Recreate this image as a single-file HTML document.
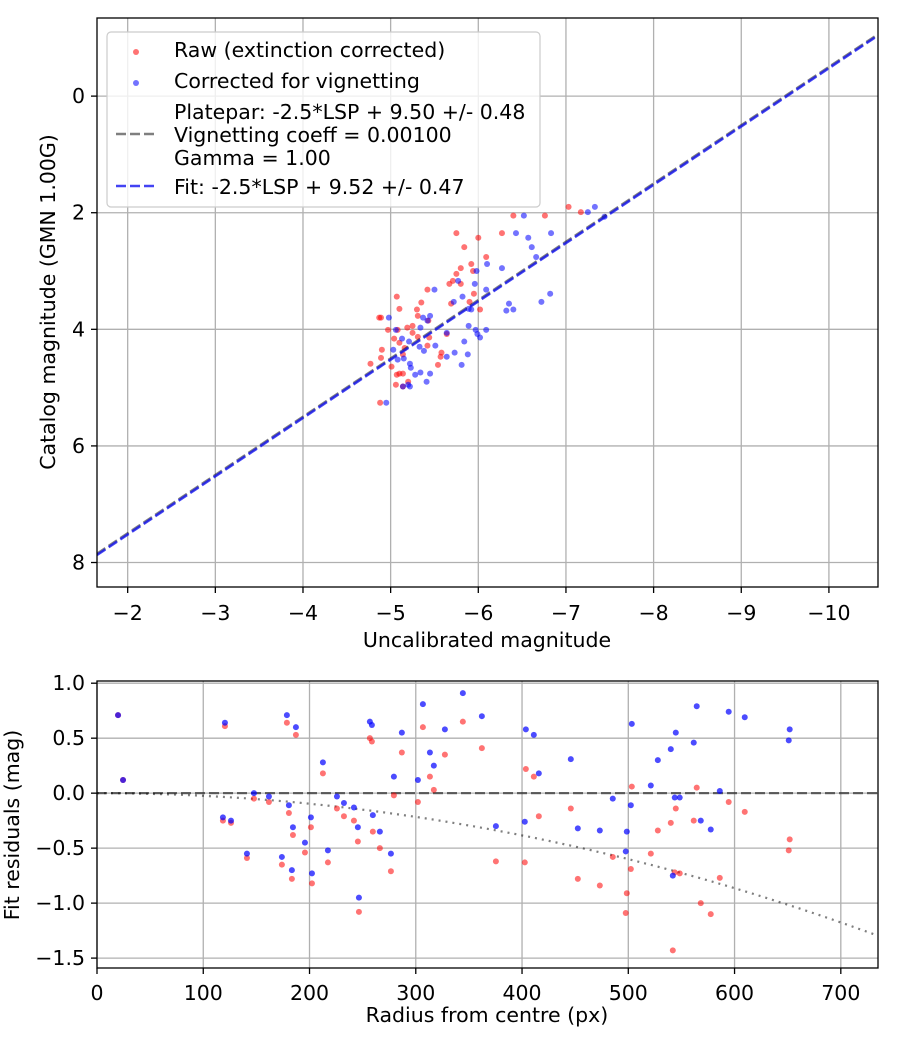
<!DOCTYPE html>
<html><head><meta charset="utf-8"><style>
body{margin:0;background:#fff}
svg text{font-family:"DejaVu Sans","Liberation Sans",sans-serif;fill:#000}
</style></head><body>
<svg id="fig" width="900" height="1050" viewBox="0 0 900 1050" xmlns="http://www.w3.org/2000/svg">
<rect width="900" height="1050" fill="#fff"/>
<g id="top"></g>
<g id="bot"></g>
</svg>
<script>
const topRawX=[-7.03,-7.17,-6.40,-6.76,-5.75,-6.00,-6.27,-5.84,-6.09,-5.92,-5.80,-5.94,-5.75,-5.71,-5.67,-5.80,-5.42,-5.95,-5.07,-5.35,-5.69,-5.90,-5.10,-5.30,-6.02,-5.31,-4.87,-4.89,-5.43,-4.97,-5.08,-5.19,-5.25,-5.25,-5.64,-5.04,-5.10,-5.44,-5.31,-5.16,-4.90,-5.42,-5.58,-4.89,-5.57,-4.77,-5.01,-5.54,-5.10,-5.14,-5.07,-5.20,-5.06,-5.14,-4.88,-5.14];
const topRawY=[1.90,1.99,2.05,2.05,2.35,2.43,2.35,2.59,2.76,2.88,2.95,3.00,3.05,3.17,3.22,3.22,3.32,3.39,3.44,3.54,3.56,3.53,3.65,3.66,3.66,3.77,3.80,3.80,3.85,4.01,4.01,3.97,3.94,4.06,4.08,4.16,4.23,4.14,4.13,4.32,4.35,4.28,4.40,4.49,4.47,4.59,4.64,4.61,4.76,4.76,4.78,4.90,4.95,4.98,5.26,4.43];
const topCorX=[-7.33,-7.25,-6.52,-7.44,-6.43,-6.83,-6.57,-6.61,-6.66,-6.10,-6.27,-5.98,-5.77,-5.96,-5.50,-6.09,-6.82,-5.82,-6.72,-6.35,-5.72,-6.32,-6.40,-5.89,-5.92,-5.45,-5.37,-4.98,-5.42,-5.89,-6.09,-5.97,-5.34,-5.06,-5.64,-5.99,-6.02,-5.13,-5.21,-5.84,-5.33,-5.51,-5.03,-5.38,-5.73,-5.88,-5.64,-5.15,-5.22,-5.81,-5.23,-5.45,-5.34,-5.28,-5.41,-5.20,-5.14,-5.22,-5.08,-4.95];
const topCorY=[1.90,1.99,2.05,2.07,2.35,2.35,2.43,2.59,2.76,2.88,2.95,3.00,3.17,3.22,3.32,3.32,3.39,3.44,3.53,3.56,3.53,3.68,3.66,3.65,3.66,3.77,3.80,3.80,3.85,3.94,4.01,4.01,3.97,4.01,4.06,4.08,4.14,4.16,4.21,4.21,4.30,4.28,4.35,4.37,4.40,4.43,4.47,4.50,4.59,4.61,4.66,4.76,4.74,4.78,4.90,4.95,4.98,4.98,4.52,5.26];
const platepar={slope:1,zp:9.50};
const fit={slope:1,zp:9.52};
const topXTicks=[-2,-3,-4,-5,-6,-7,-8,-9,-10];
const topYTicks=[0,2,4,6,8];

const radius=[120.4,178.7,187.2,147.7,161.8,180.6,118.5,126.1,184.4,201.3,195.7,141.1,174.0,183.4,202.3,212.6,225.8,232.4,241.8,245.5,259.6,266.2,217.3,276.6,246.5,256.8,258.7,286.9,279.4,306.7,313.3,317.0,302.0,327.4,344.3,362.2,403.6,411.1,415.8,445.9,375.4,402.6,452.5,473.2,485.4,498.6,497.6,503.3,502.4,521.2,527.8,540.0,544.7,543.7,548.4,541.9,561.6,564.4,568.2,577.6,586.1,594.5,609.6,651.9,651.0,19.8,24.5];
const resCor=[0.64,0.71,0.60,0.00,-0.03,-0.11,-0.22,-0.25,-0.31,-0.22,-0.45,-0.55,-0.58,-0.70,-0.73,0.28,-0.03,-0.09,-0.13,-0.31,-0.20,-0.35,-0.52,-0.55,-0.95,0.65,0.62,0.55,0.15,0.81,0.37,0.25,0.12,0.58,0.91,0.70,0.58,0.53,0.18,0.31,-0.30,-0.26,-0.32,-0.34,-0.05,-0.35,-0.53,0.63,-0.11,0.07,0.30,0.40,0.55,-0.04,-0.04,-0.75,0.46,0.79,-0.25,-0.33,0.02,0.74,0.69,0.58,0.48,0.71,0.12];
const resRaw=[0.61,0.64,0.53,-0.05,-0.08,-0.18,-0.25,-0.27,-0.38,-0.31,-0.54,-0.59,-0.65,-0.78,-0.82,0.18,-0.14,-0.21,-0.25,-0.44,-0.35,-0.50,-0.63,-0.71,-1.08,0.50,0.47,0.37,-0.02,0.60,0.15,0.03,-0.08,0.35,0.65,0.41,0.22,0.15,-0.21,-0.14,-0.62,-0.63,-0.78,-0.84,-0.58,-0.91,-1.09,0.06,-0.69,-0.55,-0.34,-0.27,-0.14,-0.72,-0.73,-1.43,-0.25,0.05,-1.00,-1.10,-0.77,-0.08,-0.17,-0.42,-0.52,0.71,0.12];
const vignetteCoeff=2.4e-6;
const botXTicks=[0,100,200,300,400,500,600,700];
const botYTicks=[1.0,0.5,0.0,-0.5,-1.0,-1.5];

const FS=20.5;
const NS='http://www.w3.org/2000/svg';
function mk(parent,tag,attrs){const e=document.createElementNS(NS,tag);for(const k in attrs)e.setAttribute(k,attrs[k]);parent.appendChild(e);return e;}
const fmt=v=>String(v).replace('-','\u2212');

// ---------- top chart ----------
const T={l:97,r:878,t:18,b:587,x0:-1.65,x1:-10.56,y0:-1.34,y1:8.42};
const tx=v=>T.l+(v-T.x0)/(T.x1-T.x0)*(T.r-T.l);
const ty=v=>T.t+(v-T.y0)/(T.y1-T.y0)*(T.b-T.t);
const gt=document.getElementById('top');
topXTicks.forEach(v=>{
  const g=mk(gt,'line',{x1:tx(v),x2:tx(v),y1:T.t,y2:T.b,stroke:'#b0b0b0','stroke-width':1.3});
  
  
  const k=mk(gt,'line',{x1:tx(v),x2:tx(v),y1:T.b,y2:T.b+6,stroke:'#000','stroke-width':1.3});
  
  
  const t=mk(gt,'text',{x:tx(v),y:T.b+33,'font-size':FS,'text-anchor':'middle'});t.textContent=fmt(v);
  
  
});
topYTicks.forEach(v=>{
  const g=mk(gt,'line',{x1:T.l,x2:T.r,y1:ty(v),y2:ty(v),stroke:'#b0b0b0','stroke-width':1.3});
  
  
  const k=mk(gt,'line',{x1:T.l-6,x2:T.l,y1:ty(v),y2:ty(v),stroke:'#000','stroke-width':1.3});
  
  
  const t=mk(gt,'text',{x:T.l-12,y:ty(v)+7,'font-size':FS,'text-anchor':'end'});t.textContent=fmt(v);
  
  
});
const clipT=mk(mk(gt,'defs',{}),'clipPath',{id:'ct'});mk(clipT,'rect',{x:T.l,y:T.t,width:T.r-T.l,height:T.b-T.t});
const pt=mk(gt,'g',{'clip-path':'url(#ct)'});
topRawX.forEach((x,i)=>{const c=mk(pt,'circle',{cx:tx(x),cy:ty(topRawY[i]),r:3,fill:'red','fill-opacity':0.55});
  
  });
topCorX.forEach((x,i)=>{const c=mk(pt,'circle',{cx:tx(x),cy:ty(topCorY[i]),r:3,fill:'blue','fill-opacity':0.55});
  
  });
[[platepar,'rgba(0,0,0,0.5)','platepar-line'],[fit,'rgba(20,20,240,0.8)','fit-line']].forEach(([p,col,nm])=>{
  const l=mk(pt,'line',{x1:tx(T.x0),y1:ty(p.slope*T.x0+p.zp),x2:tx(T.x1),y2:ty(p.slope*T.x1+p.zp),stroke:col,'stroke-width':2.6,'stroke-dasharray':'10,4'});
  
  
});
mk(gt,'rect',{x:T.l,y:T.t,width:T.r-T.l,height:T.b-T.t,fill:'none',stroke:'#000','stroke-width':1.3});
// legend
const lg=mk(gt,'g',{});


mk(lg,'rect',{x:107,y:32,width:433,height:175,rx:4,fill:'rgba(255,255,255,0.8)',stroke:'#cccccc','stroke-width':1.2});
mk(lg,'circle',{cx:136,cy:52,r:3,fill:'red','fill-opacity':0.55});
mk(lg,'circle',{cx:136,cy:83,r:3,fill:'blue','fill-opacity':0.55});
mk(lg,'line',{x1:116,x2:156,y1:134,y2:134,stroke:'rgba(0,0,0,0.5)','stroke-width':2.6,'stroke-dasharray':'10,4'});
mk(lg,'line',{x1:116,x2:156,y1:186,y2:186,stroke:'rgba(20,20,240,0.8)','stroke-width':2.6,'stroke-dasharray':'10,4'});
[['Raw (extinction corrected)',57],['Corrected for vignetting',88],['Platepar: -2.5*LSP + 9.50 +/- 0.48',119],['Vignetting coeff = 0.00100',142],['Gamma = 1.00',165],['Fit: -2.5*LSP + 9.52 +/- 0.47',194]].forEach(([s,y])=>{
  const t=mk(lg,'text',{x:174,y:y,'font-size':FS});t.textContent=s;
  
  
});
let t=mk(gt,'text',{x:487,y:647,'font-size':FS,'text-anchor':'middle'});t.textContent='Uncalibrated magnitude';


t=mk(gt,'text',{x:0,y:0,'font-size':FS,'text-anchor':'middle',transform:'translate(55,302) rotate(-90)'});t.textContent='Catalog magnitude (GMN 1.00G)';



// ---------- bottom chart ----------
const B={l:97,r:878,t:681,b:968,x0:0,x1:735,y0:1.02,y1:-1.59};
const bx=v=>B.l+(v-B.x0)/(B.x1-B.x0)*(B.r-B.l);
const by=v=>B.t+(v-B.y0)/(B.y1-B.y0)*(B.b-B.t);
const gb=document.getElementById('bot');
botXTicks.forEach(v=>{
  const g=mk(gb,'line',{x1:bx(v),x2:bx(v),y1:B.t,y2:B.b,stroke:'#b0b0b0','stroke-width':1.3});
  
  
  const k=mk(gb,'line',{x1:bx(v),x2:bx(v),y1:B.b,y2:B.b+6,stroke:'#000','stroke-width':1.3});
  
  
  const s=mk(gb,'text',{x:bx(v),y:B.b+32,'font-size':FS,'text-anchor':'middle'});s.textContent=String(v);
  
  
});
botYTicks.forEach(v=>{
  const g=mk(gb,'line',{x1:B.l,x2:B.r,y1:by(v),y2:by(v),stroke:'#b0b0b0','stroke-width':1.3});
  
  
  const k=mk(gb,'line',{x1:B.l-6,x2:B.l,y1:by(v),y2:by(v),stroke:'#000','stroke-width':1.3});
  
  
  const s=mk(gb,'text',{x:B.l-12,y:by(v)+7,'font-size':FS,'text-anchor':'end'});s.textContent=fmt(v.toFixed(1));
  
  
});
const clipB=mk(mk(gb,'defs',{}),'clipPath',{id:'cb'});mk(clipB,'rect',{x:B.l,y:B.t,width:B.r-B.l,height:B.b-B.t});
const pb=mk(gb,'g',{'clip-path':'url(#cb)'});
let zl=mk(pb,'line',{x1:bx(B.x0),x2:bx(B.x1),y1:by(0),y2:by(0),stroke:'rgba(0,0,0,0.55)','stroke-width':2.2,'stroke-dasharray':'10,4'});


let d='';for(let r=0;r<=735;r+=5){d+=(r?'L':'M')+bx(r).toFixed(1)+','+by(-vignetteCoeff*r*r).toFixed(1);}
let vl=mk(pb,'path',{d:d,fill:'none',stroke:'rgba(0,0,0,0.5)','stroke-width':2.2,'stroke-dasharray':'2,5'});


radius.forEach((r,i)=>{const c=mk(pb,'circle',{cx:bx(r),cy:by(resRaw[i]),r:3,fill:'red','fill-opacity':0.55});
  
  });
radius.forEach((r,i)=>{const c=mk(pb,'circle',{cx:bx(r),cy:by(resCor[i]),r:3,fill:'blue','fill-opacity':0.7});
  
  });
mk(gb,'rect',{x:B.l,y:B.t,width:B.r-B.l,height:B.b-B.t,fill:'none',stroke:'#000','stroke-width':1.3});
t=mk(gb,'text',{x:487,y:1022,'font-size':FS,'text-anchor':'middle'});t.textContent='Radius from centre (px)';


t=mk(gb,'text',{x:0,y:0,'font-size':FS,'text-anchor':'middle',transform:'translate(19,825) rotate(-90)'});t.textContent='Fit residuals (mag)';


</script>
</body></html>
